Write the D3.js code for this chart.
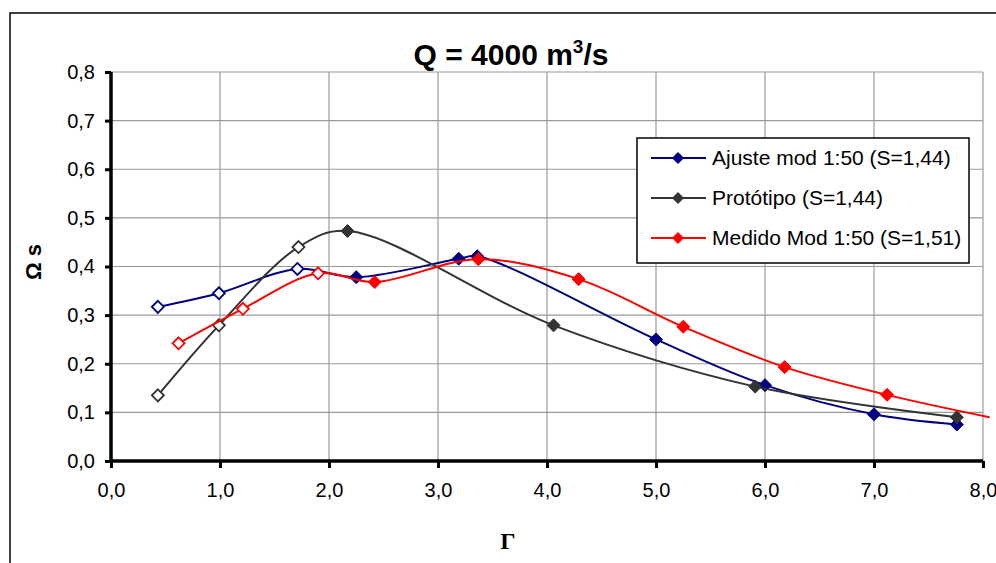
<!DOCTYPE html>
<html><head><meta charset="utf-8">
<script src="https://cdn.jsdelivr.net/npm/d3@7"></script>
<style>body{margin:0;background:#fff}svg{display:block}</style>
</head><body>
<svg id="c" width="996" height="563"></svg>
<script>
// ---- data ----
const xTicks = [0,1,2,3,4,5,6,7,8];
const yTicks = [0,0.1,0.2,0.3,0.4,0.5,0.6,0.7,0.8];
const seriesNames = ["Ajuste mod 1:50 (S=1,44)", "Protótipo (S=1,44)", "Medido Mod 1:50 (S=1,51)"];
const seriesColors = ["#000080", "#333333", "#FF0000"];
const ajusteX = [0.43, 0.99, 1.71, 2.25, 3.19, 3.36, 5.0, 6.0, 7.0, 7.76];
const ajusteY = [0.317, 0.345, 0.395, 0.378, 0.416, 0.421, 0.250, 0.156, 0.096, 0.075];
const ajusteOpen = [1,1,1,0,0,0,0,0,0,0];
const protoX = [0.43, 0.99, 1.72, 2.17, 4.06, 5.91, 7.76];
const protoY = [0.135, 0.279, 0.440, 0.473, 0.279, 0.153, 0.090];
const protoOpen = [1,1,1,0,0,0,0];
const medidoX = [0.62, 1.21, 1.90, 2.42, 3.37, 4.29, 5.25, 6.18, 7.12, 8.06];
const medidoY = [0.242, 0.313, 0.386, 0.368, 0.415, 0.374, 0.276, 0.193, 0.136, 0.090];
const medidoOpen = [1,1,1,0,0,0,0,0,0,0];

const series = [
  {name: seriesNames[0], color: seriesColors[0], xs: ajusteX, ys: ajusteY, open: ajusteOpen},
  {name: seriesNames[1], color: seriesColors[1], xs: protoX, ys: protoY, open: protoOpen},
  {name: seriesNames[2], color: seriesColors[2], xs: medidoX, ys: medidoY, open: medidoOpen}
];

const SANS = "Arial, 'Liberation Sans', sans-serif";
const svg = d3.select("#c");
const x = d3.scaleLinear().domain([0,8]).range([111,983]);
const y = d3.scaleLinear().domain([0,0.8]).range([461,72]);

// chart area border
svg.append("rect").attr("x",10).attr("y",13).attr("width",1000).attr("height",600)
  .attr("fill","#fff").attr("stroke","#000").attr("stroke-width",1.5);

// gridlines
const g = svg.append("g");
g.selectAll(".hg").data(yTicks.filter(d=>d>0)).join("line")
  .attr("x1",x(0)).attr("x2",x(8)).attr("y1",d=>y(d)).attr("y2",d=>y(d))
  .attr("stroke","#9a9a9a").attr("stroke-width",1.2);
g.selectAll(".vg").data(xTicks.filter(d=>d>0)).join("line")
  .attr("y1",y(0)).attr("y2",y(0.8)).attr("x1",d=>x(d)).attr("x2",d=>x(d))
  .attr("stroke","#9a9a9a").attr("stroke-width",1.2);

// title
const t = svg.append("text").attr("x",511).attr("y",65).attr("text-anchor","middle")
  .style("font-family",SANS).attr("font-size",30).attr("font-weight","bold").attr("fill","#000");
t.append("tspan").text("Q = 4000 m");
t.append("tspan").attr("dy",-12).attr("font-size",19).text("3");
t.append("tspan").attr("dy",12).text("/s");

// series lines & markers
const line = d3.line().x(d=>x(d[0])).y(d=>y(d[1])).curve(d3.curveCatmullRom.alpha(0.5));
const diamond = (cx, cy, r) => `M${cx},${cy-r}L${cx+r},${cy}L${cx},${cy+r}L${cx-r},${cy}Z`;
series.forEach(s => {
  const pts = s.xs.map((v,i)=>[v, s.ys[i], s.open[i]]);
  svg.append("path").attr("d", line(pts)).attr("fill","none")
    .attr("stroke", s.color).attr("stroke-width",2);
  svg.selectAll(null).data(pts.filter(p=>p[0] <= 8)).join("path")
    .attr("d", p => p[2] ? diamond(x(p[0]), y(p[1]), 6) : diamond(x(p[0]), y(p[1]), 6.5))
    .attr("fill", p => p[2] ? "#fff" : s.color)
    .attr("stroke", s.color).attr("stroke-width", p => p[2] ? 1.8 : 1);
});

// axes
const fmt = d => d3.format(".1f")(d).replace(".", ",");
const yAxis = svg.append("g").attr("transform",`translate(${x(0)},0)`)
  .call(d3.axisLeft(y).tickValues(yTicks).tickSize(6).tickPadding(10).tickFormat(fmt));
const xAxis = svg.append("g").attr("transform",`translate(0,${y(0)})`)
  .call(d3.axisBottom(x).tickValues(xTicks).tickSize(7).tickPadding(15).tickFormat(fmt));
[yAxis, xAxis].forEach(a => {
  a.select(".domain").attr("stroke","#000").attr("stroke-width",3.5);
  a.selectAll(".tick line").attr("stroke","#000").attr("stroke-width",3);
  a.selectAll(".tick text").attr("font-size",20).attr("fill","#000").style("font-family",SANS);
});
yAxis.select(".domain").attr("d", `M0,${y(0)}V${y(0.8)}`);
xAxis.select(".domain").attr("d", `M${x(0)},0H${x(8)}`);

// axis titles
svg.append("text").attr("transform","translate(41,262) rotate(-90)").attr("text-anchor","middle")
  .style("font-family",SANS).attr("font-size",22).attr("font-weight","bold").text("Ω s");
svg.append("text").attr("x",508).attr("y",549).attr("text-anchor","middle")
  .style("font-family","'Liberation Serif','Times New Roman',serif")
  .attr("font-size",24).attr("font-weight","bold").text("Γ");

// legend
const lg = svg.append("g");
lg.append("rect").attr("x",637).attr("y",138).attr("width",332).attr("height",125)
  .attr("fill","#fff").attr("stroke","#000").attr("stroke-width",1.5);
series.forEach((s,i) => {
  const cy = 158 + i*40;
  lg.append("line").attr("x1",651).attr("x2",706).attr("y1",cy).attr("y2",cy)
    .attr("stroke",s.color).attr("stroke-width",2);
  lg.append("path").attr("d", diamond(678, cy, 5.5)).attr("fill", s.color).attr("stroke", s.color);
  lg.append("text").attr("x",712).attr("y",cy+7).style("font-family",SANS)
    .attr("font-size",21).attr("fill","#000").text(s.name);
});
</script>
</body></html>
